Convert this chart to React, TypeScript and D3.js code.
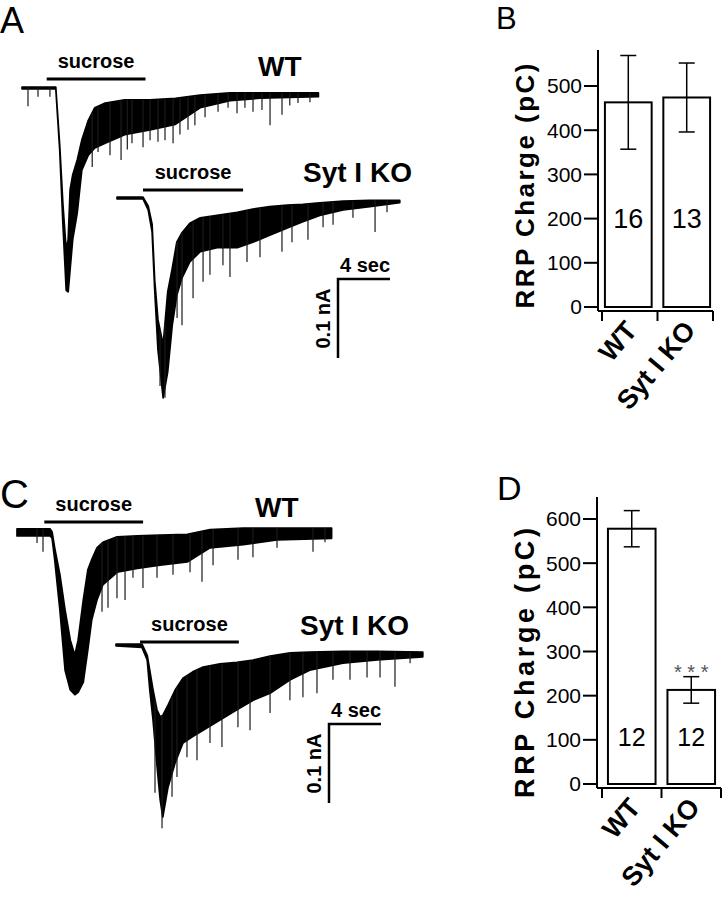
import React from 'react';
import * as d3 from 'd3';

// bar chart values (pC)
const categories = ['WT', 'Syt I KO'];
const chargeB = [463, 474];
const errB = [106, 78];
const countB = ['16', '13'];
const ticksB = [0, 100, 200, 300, 400, 500];
const chargeD = [578, 213];
const errD = [41, 30];
const countD = ['12', '12'];
const ticksD = [0, 100, 200, 300, 400, 500, 600];

// traces: time (s), envelope of current (pA), spikes (s, pA)
const aWtTime = [0, 2.6, 2.9, 3.15, 3.4, 3.55, 3.7, 3.9, 4.25, 4.6, 5.1, 5.6, 6.4, 7.9, 9.85, 11.8, 13.7, 16, 18.3, 22.8];
const aWtUpper = [1, 1, -72, -148, -205, -192, -129, -110, -91, -66, -41, -25, -19, -15, -15, -13, -9, -6, -6, -6];
const aWtLower = [-1, -1, -78, -173, -256, -258, -230, -192, -158, -104, -85, -76, -70, -59, -53, -46, -25, -16, -13, -11];
const aWtSpikeT = [0.46, 1.23, 2.15, 5.4, 5.85, 6.77, 7.62, 8.1, 8.46, 9.31, 9.85, 10.46, 11.0, 11.62, 12.15, 12.77, 13.3, 14.08, 15.08, 15.85, 16.54, 17.15, 17.77, 18.46, 19.08, 20.0, 20.6, 21.23, 22.15];
const aWtSpikeI = [-23, -11, -11, -100, -81, -85, -91, -78, -70, -75, -66, -68, -66, -70, -59, -53, -47, -37, -30, -25, -32, -25, -30, -28, -47, -34, -22, -19, -18];

const aKoTime = [0, 2.0, 2.4, 2.7, 2.9, 3.15, 3.55, 3.9, 4.25, 4.6, 5.0, 5.6, 6.4, 7.7, 9.25, 10.45, 11.75, 13.1, 14.3, 15.6, 17.4, 19.45, 21.75];
const aKoUpper = [1, 1, -10, -33, -104, -154, -186, -119, -89, -56, -44, -32, -25, -22, -18, -14, -11, -9, -8, -6, -4, -3, -3];
const aKoLower = [-1, -1, -15, -43, -116, -192, -253, -220, -161, -123, -101, -81, -68, -63, -63, -56, -47, -38, -30, -22, -15, -11, -6];
const aKoSpikeT = [3.31, 3.69, 4.62, 5.0, 5.85, 6.62, 7.15, 8.15, 8.69, 10.0, 11.0, 12.69, 13.46, 14.69, 15.85, 16.62, 18.15, 19.85, 20.77];
const aKoSpikeI = [-238, -253, -152, -161, -127, -106, -97, -85, -100, -81, -75, -68, -56, -53, -37, -34, -25, -43, -18];

const cWtTime = [0, 2.55, 2.7, 2.9, 3.3, 3.7, 4.1, 4.45, 4.7, 5.1, 5.45, 5.75, 6.15, 6.6, 7.7, 9.25, 11.0, 13.1, 14.85, 17.4, 20.0, 24.2];
const cWtUpper = [4, 4, 0, -20, -54, -99, -137, -156, -137, -86, -48, -35, -20, -13, -6, -5, -4, -3, 3, 5, 5, 5];
const cWtLower = [-5, -5, -8, -35, -99, -175, -200, -206, -203, -190, -149, -111, -86, -67, -51, -46, -42, -38, -20, -16, -10, -8];
const cWtSpikeT = [1.54, 2.0, 6.54, 7.0, 7.69, 8.31, 8.92, 9.69, 10.77, 12.0, 13.31, 14.23, 15.08, 17.0, 18.15, 20.0, 22.77, 23.69];
const cWtSpikeI = [-14, -25, -101, -96, -84, -86, -58, -71, -58, -54, -51, -63, -42, -35, -32, -20, -25, -13];

const cKoTime = [0, 2.0, 2.4, 2.6, 2.85, 3.15, 3.4, 3.6, 4.0, 4.55, 5.15, 5.9, 6.7, 8.0, 9.3, 10.55, 11.85, 13.4, 14.9, 17.45, 20.1, 23.6];
const cKoUpper = [1, 1, -13, -32, -57, -82, -91, -89, -76, -57, -42, -34, -28, -24, -22, -19, -14, -10, -9, -8, -8, -9];
const cKoLower = [-1, -3, -19, -57, -95, -152, -196, -218, -180, -149, -124, -116, -108, -95, -82, -70, -61, -44, -32, -23, -19, -15];
const cKoSpikeT = [3.0, 3.54, 4.31, 4.69, 5.46, 6.23, 7.23, 8.15, 9.38, 10.31, 11.85, 13.38, 14.38, 15.46, 16.69, 18.0, 19.31, 20.31, 21.46, 22.62];
const cKoSpikeI = [-187, -232, -192, -167, -142, -146, -124, -129, -104, -108, -86, -70, -66, -61, -44, -44, -41, -41, -53, -23];

// sucrose application windows (s)
const sucroseA = [[1.9, 9.5], [2.0, 9.7]];
const sucroseC = [[2.1, 9.7], [1.85, 9.45]];

const FONT = '"Liberation Sans", Arial, Helvetica, sans-serif';
const PX_PER_S = 13;
const PX_PER_PA = 0.79;

function traceScales(x0: number, y0: number) {
  const x = d3.scaleLinear().domain([0, 4]).range([x0, x0 + 4 * PX_PER_S]);
  const y = d3.scaleLinear().domain([0, -100]).range([y0, y0 + 100 * PX_PER_PA]);
  return { x, y };
}

function Trace({ time, upper, lower, spikeT, spikeI, x0, y0, sucrose, barY, label, labelX, labelY }: any) {
  const { x, y } = traceScales(x0, y0);
  const idx = d3.range(time.length);
  const area = d3.area<number>()
    .x(i => x(time[i]))
    .y0(i => y(upper[i]))
    .y1(i => y(lower[i]));
  const upAt = d3.scaleLinear().domain(time).range(upper);
  return (
    <g>
      <path d={area(idx) || ''} fill="#000" stroke="#000" strokeWidth={1.7} strokeLinejoin="round" />
      {spikeT.map((t: number, i: number) => (
        <line key={i} x1={x(t)} x2={x(t)} y1={y(upAt(t))} y2={y(spikeI[i])} stroke="#1a1a1a" strokeWidth={1.2} />
      ))}
      <line x1={x(sucrose[0])} x2={x(sucrose[1])} y1={barY} y2={barY} stroke="#000" strokeWidth={3} />
      <text x={(x(sucrose[0]) + x(sucrose[1])) / 2} y={barY - 11} textAnchor="middle"
        fontFamily={FONT} fontWeight="bold" fontSize={20}>sucrose</text>
      <text x={labelX} y={labelY} fontFamily={FONT} fontWeight="bold" fontSize={28}>{label}</text>
    </g>
  );
}

function ScaleBar({ cx, cy }: { cx: number; cy: number }) {
  const { x, y } = traceScales(cx, cy);
  const xEnd = x(4);
  const yEnd = y(-100);
  return (
    <g fontFamily={FONT} fontWeight="bold" fontSize={20}>
      <path d={`M${xEnd},${cy}H${cx}V${yEnd}`} fill="none" stroke="#000" strokeWidth={2.5} />
      <text x={(cx + xEnd) / 2 + 1} y={cy - 7} textAnchor="middle">4 sec</text>
      <text transform={`translate(${cx - 8},${(cy + yEnd) / 2}) rotate(-90)`} textAnchor="middle">0.1 nA</text>
    </g>
  );
}

function BarPanel({ values, errs, counts, ticks, yMax, y0px, yMaxPx, axisX, axisTop, xRange, padOuter, labelLen, labelMid, labelSize, countY, countSize, stars }: any) {
  const y = d3.scaleLinear().domain([0, yMax]).range([y0px, yMaxPx]);
  const x = d3.scaleBand<string>().domain(categories).range(xRange).paddingInner(0.2).paddingOuter(padOuter);
  const xAxisY = y0px + 4;
  const bw = x.bandwidth();
  const mid = ((x('WT') as number) + bw + (x('Syt I KO') as number)) / 2;
  const xTicks = [xRange[0], mid, xRange[1]];
  return (
    <g fontFamily={FONT}>
      <line x1={axisX} x2={axisX} y1={axisTop} y2={xAxisY} stroke="#000" strokeWidth={2} />
      <line x1={axisX} x2={xRange[1]} y1={xAxisY} y2={xAxisY} stroke="#000" strokeWidth={2} />
      {xTicks.map((t, i) => (
        <line key={i} x1={t} x2={t} y1={xAxisY} y2={xAxisY + 10} stroke="#000" strokeWidth={2} />
      ))}
      {ticks.map((t: number) => (
        <g key={t}>
          <line x1={axisX - 14} x2={axisX} y1={y(t)} y2={y(t)} stroke="#000" strokeWidth={2} />
          <text x={axisX - 16} y={y(t)} dy="0.35em" textAnchor="end" fontSize={21}>{t}</text>
        </g>
      ))}
      {categories.map((c, i) => {
        const bx = x(c) as number;
        const cxm = bx + bw / 2;
        return (
          <g key={c}>
            <rect x={bx} y={y(values[i])} width={bw} height={y(0) - y(values[i])} fill="#fff" stroke="#000" strokeWidth={2} />
            <line x1={cxm} x2={cxm} y1={y(values[i] + errs[i])} y2={y(values[i] - errs[i])} stroke="#000" strokeWidth={1.5} />
            <line x1={cxm - 8} x2={cxm + 8} y1={y(values[i] + errs[i])} y2={y(values[i] + errs[i])} stroke="#000" strokeWidth={1.5} />
            <line x1={cxm - 8} x2={cxm + 8} y1={y(values[i] - errs[i])} y2={y(values[i] - errs[i])} stroke="#000" strokeWidth={1.5} />
            <text x={cxm} y={y(countY)} dy="0.35em" textAnchor="middle" fontSize={countSize}>{counts[i]}</text>
            <text transform={`translate(${cxm + 10},${xAxisY + 20}) rotate(-50)`} textAnchor="end"
              fontWeight="bold" fontSize={27}>{c}</text>
          </g>
        );
      })}
      {stars && (
        <text x={(x('Syt I KO') as number) + bw / 2} y={y(values[1] + errs[1]) + 2} textAnchor="middle"
          fontSize={20} fill="#555">* * *</text>
      )}
      <text transform={`translate(534,${labelMid}) rotate(-90)`} textAnchor="middle"
        fontWeight="bold" fontSize={labelSize} textLength={labelLen} lengthAdjust="spacing">RRP Charge (pC)</text>
    </g>
  );
}

export default function App() {
  return (
    <svg width={722} height={899} viewBox="0 0 722 899"
      style={{ position: 'absolute', left: 0, top: 0, background: '#fff' }}>
      <rect width={722} height={899} fill="#fff" />
      <g fontFamily={FONT}>
        <text x={0} y={33} fontSize={36}>A</text>
        <text x={496} y={29} fontSize={31}>B</text>
        <text x={0} y={508} fontSize={40}>C</text>
        <text x={497} y={500} fontSize={34}>D</text>
      </g>

      <Trace time={aWtTime} upper={aWtUpper} lower={aWtLower} spikeT={aWtSpikeT} spikeI={aWtSpikeI}
        x0={22} y0={88} sucrose={sucroseA[0]} barY={79} label="WT" labelX={258} labelY={76} />
      <Trace time={aKoTime} upper={aKoUpper} lower={aKoLower} spikeT={aKoSpikeT} spikeI={aKoSpikeI}
        x0={117} y0={198} sucrose={sucroseA[1]} barY={190} label="Syt I KO" labelX={303} labelY={182} />
      <ScaleBar cx={338} cy={279} />

      <Trace time={cWtTime} upper={cWtUpper} lower={cWtLower} spikeT={cWtSpikeT} spikeI={cWtSpikeI}
        x0={17} y0={532} sucrose={sucroseC[0]} barY={522} label="WT" labelX={255} labelY={517} />
      <Trace time={cKoTime} upper={cKoUpper} lower={cKoLower} spikeT={cKoSpikeT} spikeI={cKoSpikeI}
        x0={116} y0={645} sucrose={sucroseC[1]} barY={642} label="Syt I KO" labelX={300} labelY={635} />
      <ScaleBar cx={329} cy={724} />

      <BarPanel values={chargeB} errs={errB} counts={countB} ticks={ticksB} yMax={500}
        y0px={307} yMaxPx={86} axisX={598} axisTop={50} xRange={[602, 713]} padOuter={0.05}
        labelLen={245} labelMid={186} labelSize={26} countY={200} countSize={27} stars={false} />
      <BarPanel values={chargeD} errs={errD} counts={countD} ticks={ticksD} yMax={600}
        y0px={784} yMaxPx={519} axisX={597} axisTop={497} xRange={[602, 721]} padOuter={0.1}
        labelLen={270} labelMid={663} labelSize={27} countY={105} countSize={25} stars={true} />
    </svg>
  );
}
